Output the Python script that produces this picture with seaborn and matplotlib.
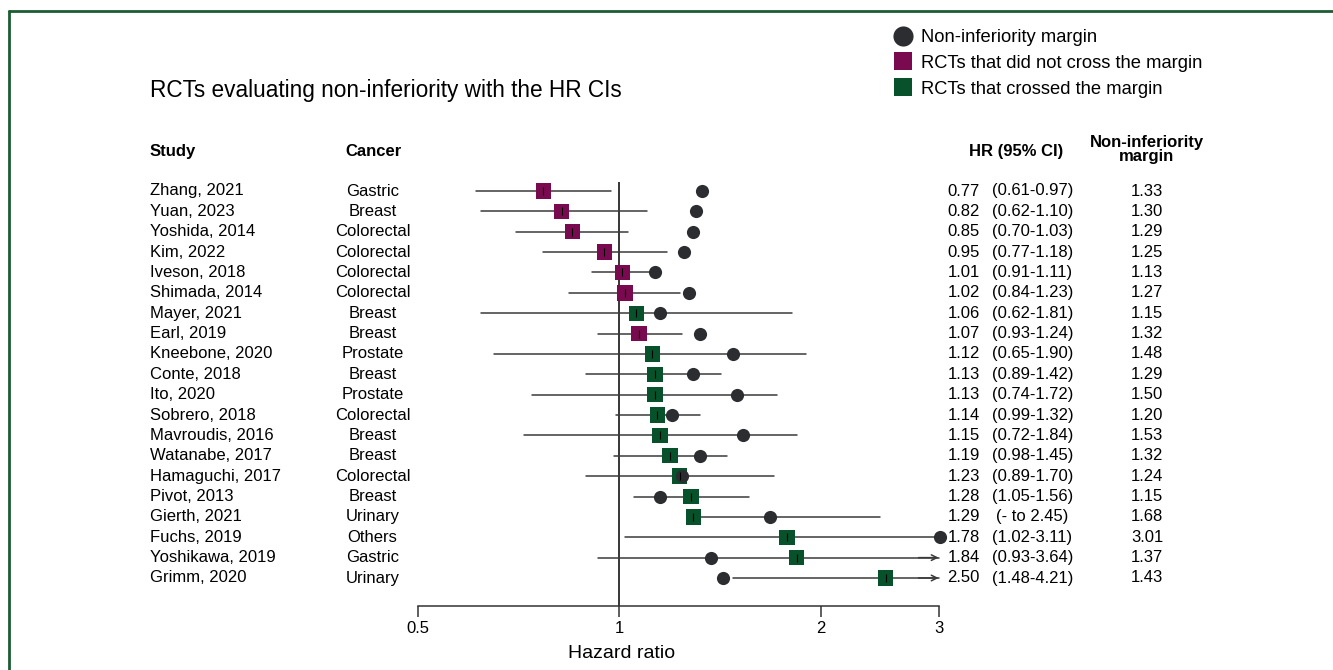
import numpy as np
import pandas as pd
import matplotlib
matplotlib.use("Agg")
import matplotlib.pyplot as plt
import matplotlib.transforms as mtransforms
from matplotlib.lines import Line2D
import seaborn as sns

studies = ["Zhang, 2021", "Yuan, 2023", "Yoshida, 2014", "Kim, 2022", "Iveson, 2018",
           "Shimada, 2014", "Mayer, 2021", "Earl, 2019", "Kneebone, 2020", "Conte, 2018",
           "Ito, 2020", "Sobrero, 2018", "Mavroudis, 2016", "Watanabe, 2017",
           "Hamaguchi, 2017", "Pivot, 2013", "Gierth, 2021", "Fuchs, 2019",
           "Yoshikawa, 2019", "Grimm, 2020"]
cancers = ["Gastric", "Breast", "Colorectal", "Colorectal", "Colorectal", "Colorectal",
           "Breast", "Breast", "Prostate", "Breast", "Prostate", "Colorectal", "Breast",
           "Breast", "Colorectal", "Breast", "Urinary", "Others", "Gastric", "Urinary"]
hr = [0.77, 0.82, 0.85, 0.95, 1.01, 1.02, 1.06, 1.07, 1.12, 1.13, 1.13, 1.14, 1.15,
      1.19, 1.23, 1.28, 1.29, 1.78, 1.84, 2.50]
ci_low = [0.61, 0.62, 0.70, 0.77, 0.91, 0.84, 0.62, 0.93, 0.65, 0.89, 0.74, 0.99, 0.72,
          0.98, 0.89, 1.05, None, 1.02, 0.93, 1.48]
ci_high = [0.97, 1.10, 1.03, 1.18, 1.11, 1.23, 1.81, 1.24, 1.90, 1.42, 1.72, 1.32, 1.84,
           1.45, 1.70, 1.56, 2.45, 3.11, 3.64, 4.21]
margin = [1.33, 1.30, 1.29, 1.25, 1.13, 1.27, 1.15, 1.32, 1.48, 1.29, 1.50, 1.20, 1.53,
          1.32, 1.24, 1.15, 1.68, 3.01, 1.37, 1.43]
status = ["not"] * 6 + ["crossed", "not"] + ["crossed"] * 12
ci_text = ["(0.61-0.97)", "(0.62-1.10)", "(0.70-1.03)", "(0.77-1.18)", "(0.91-1.11)",
           "(0.84-1.23)", "(0.62-1.81)", "(0.93-1.24)", "(0.65-1.90)", "(0.89-1.42)",
           "(0.74-1.72)", "(0.99-1.32)", "(0.72-1.84)", "(0.98-1.45)", "(0.89-1.70)",
           "(1.05-1.56)", "(- to 2.45)", "(1.02-3.11)", "(0.93-3.64)", "(1.48-4.21)"]
x_ticks = [0.5, 1, 2, 3]
x_ticklabels = ["0.5", "1", "2", "3"]

PURPLE = "#7a0a50"
GREEN = "#07512b"
DARK = "#2b2d31"
FRAME = "#1b5c33"
LINE = "#3a3a3a"
ARROW_MIN = 3.2  # draw an arrowhead when the CI runs clearly past the axis end

sns.set_theme(style="white")
plt.rcParams["font.family"] = ["Liberation Sans", "DejaVu Sans"]
plt.rcParams["text.color"] = "black"
plt.rcParams["xtick.color"] = "black"
plt.rcParams["axes.labelcolor"] = "black"

W, H = 1333, 670
fig = plt.figure(figsize=(W / 100, H / 100), dpi=100)
fig.patch.set_facecolor("white")

x0, x3 = 418, 938.6
ytop_px, ybot_px = 182, 606
row0_px, rowstep = 191, (578 - 191) / 19
ax = fig.add_axes([x0 / W, 1 - ybot_px / H, (x3 - x0) / W, (ybot_px - ytop_px) / H])

n = len(studies)
df = pd.DataFrame({
    "row": np.arange(n),
    "study": studies, "cancer": cancers, "hr": hr,
    "lo": [h if l is None else l for l, h in zip(ci_low, hr)],
    "hi": ci_high, "margin": margin, "status": status,
})

ax.set_xscale("log", base=2)
ax.set_xlim(0.5, 3)
ylo = (ytop_px - row0_px) / rowstep
yhi = (ybot_px - row0_px) / rowstep
ax.set_ylim(yhi, ylo)

# reference line at HR = 1
ax.axvline(1, color="black", lw=1.1, zorder=1)

# confidence interval lines
for _, r in df.iterrows():
    hi_clip = min(r["hi"], 3)
    ax.plot([r["lo"], hi_clip], [r["row"], r["row"]], color=LINE, lw=1.1,
            zorder=2, clip_on=False)
    if r["hi"] > ARROW_MIN:
        ax.annotate("", xy=(3, r["row"]), xytext=(2.8, r["row"]),
                    arrowprops=dict(arrowstyle="->", color=LINE, lw=1.1,
                                    shrinkA=0, shrinkB=0, mutation_scale=10),
                    annotation_clip=False, zorder=2)

# margin circles
sns.scatterplot(data=df, x="margin", y="row", ax=ax, marker="o", s=90,
                color=DARK, edgecolor=DARK, linewidth=0, zorder=4, legend=False)
# HR squares
sns.scatterplot(data=df, x="hr", y="row", hue="status", ax=ax, marker="s", s=122,
                palette={"not": PURPLE, "crossed": GREEN}, linewidth=0,
                zorder=3, legend=False)
# center tick marks
sns.scatterplot(data=df, x="hr", y="row", ax=ax, marker="|", s=30, color="black",
                linewidth=0.8, zorder=5, legend=False)
for c in ax.collections:
    c.set_clip_on(False)

for s in ["top", "right", "left"]:
    ax.spines[s].set_visible(False)
ax.spines["bottom"].set_color("#333333")
ax.spines["bottom"].set_linewidth(1.1)
ax.set_yticks([])
ax.set_xticks(x_ticks)
ax.set_xticklabels(x_ticklabels)
ax.xaxis.set_minor_locator(matplotlib.ticker.NullLocator())
ax.tick_params(axis="x", which="major", direction="out", length=8, width=1.1,
               color="#333333", labelcolor="black", labelsize=12, pad=3, bottom=True)
ax.set_xlabel("")
ax.set_ylabel("")
ax.patch.set_alpha(0)

fig.text(622 / W, 1 - 653 / H, "Hazard ratio", fontsize=14, ha="center", va="center")

# table text
trans = mtransforms.blended_transform_factory(fig.transFigure, ax.transData)
for i in range(n):
    fig.text(150 / W, i, studies[i], transform=trans, fontsize=12, ha="left", va="center")
    fig.text(372.5 / W, i, cancers[i], transform=trans, fontsize=12, ha="center", va="center")
    fig.text(980 / W, i, f"{hr[i]:.2f}", transform=trans, fontsize=12, ha="right", va="center")
    fig.text(1032.5 / W, i, ci_text[i], transform=trans, fontsize=12, ha="center", va="center")
    fig.text(1147 / W, i, f"{margin[i]:.2f}", transform=trans, fontsize=12, ha="center", va="center")

hy = 1 - 151.5 / H
fig.text(150 / W, hy, "Study", fontsize=12, fontweight="bold", ha="left", va="center")
fig.text(373 / W, hy, "Cancer", fontsize=12, fontweight="bold", ha="center", va="center")
fig.text(1016 / W, hy, "HR (95% CI)", fontsize=12, fontweight="bold", ha="center", va="center")
fig.text(1147 / W, 1 - 142 / H, "Non-inferiority", fontsize=12, fontweight="bold",
         ha="center", va="center")
fig.text(1147 / W, 1 - 157 / H, "margin", fontsize=12, fontweight="bold",
         ha="center", va="center")

fig.text(150 / W, 1 - 91 / H, "RCTs evaluating non-inferiority with the HR CIs",
         fontsize=16.3, ha="left", va="center")

# legend
handles = [
    Line2D([], [], marker="o", ls="none", markersize=14.5, color=DARK, markeredgewidth=0),
    Line2D([], [], marker="s", ls="none", markersize=13.5, color=PURPLE, markeredgewidth=0),
    Line2D([], [], marker="s", ls="none", markersize=13.5, color=GREEN, markeredgewidth=0),
]
labels = ["Non-inferiority margin", "RCTs that did not cross the margin",
          "RCTs that crossed the margin"]
fig.legend(handles, labels, loc="upper left", bbox_to_anchor=(894 / W, 1 - 29 / H),
           frameon=False, fontsize=13.2, handlelength=1.0, handletextpad=0.45,
           labelspacing=0.48, borderpad=0, borderaxespad=0)

# frame lines (top and left)
fig.add_artist(Line2D([9 / W, 1], [1 - 11 / H, 1 - 11 / H], transform=fig.transFigure,
                      color=FRAME, lw=2))
fig.add_artist(Line2D([9 / W, 9 / W], [1 - 11 / H, 0], transform=fig.transFigure,
                      color=FRAME, lw=2))

fig.savefig("out.png", dpi=100, facecolor="white")
